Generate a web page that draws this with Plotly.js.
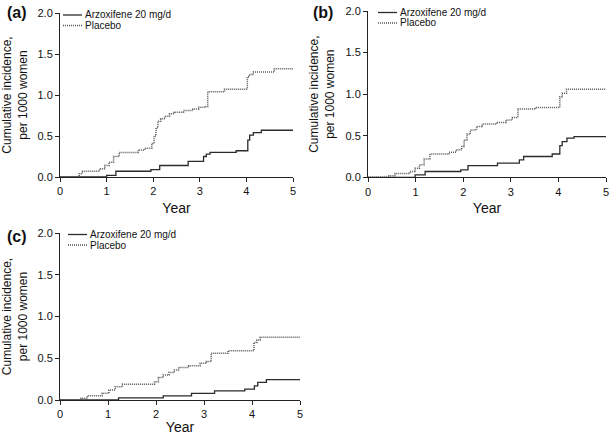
<!DOCTYPE html>
<html>
<head>
<meta charset="utf-8">
<script src="https://cdn.plot.ly/plotly-3.0.1.min.js"></script>
<style>html,body{margin:0;padding:0;background:#fff;}#chart{width:610px;height:435px;}</style>
</head>
<body>
<div id="chart"></div>
<script>
// ---- data (years, cumulative incidence per 1000 women) ----
const seriesNames = ["Arzoxifene 20 mg/d", "Placebo"];
const panelLabels = ["(a)", "(b)", "(c)"];
const xTickVals = [0, 1, 2, 3, 4, 5];
const yTickVals = [0, 0.5, 1.0, 1.5, 2.0];

const aPlaceboT = [0, 0.41, 0.48, 0.85, 0.96, 1.05, 1.15, 1.27, 1.68, 1.82, 1.97, 2.02, 2.06, 2.10, 2.16, 2.25, 2.35, 2.45, 2.65, 2.85, 2.98, 3.12, 3.17, 3.53, 4.02, 4.06, 4.15, 4.60, 5.0];
const aPlaceboV = [0, 0.04, 0.07, 0.10, 0.14, 0.18, 0.25, 0.30, 0.33, 0.35, 0.41, 0.50, 0.60, 0.68, 0.71, 0.74, 0.77, 0.79, 0.81, 0.83, 0.85, 0.86, 1.04, 1.07, 1.22, 1.25, 1.28, 1.32, 1.32];
const aArzoT = [0, 1.00, 1.20, 1.95, 2.14, 2.75, 3.08, 3.14, 3.22, 3.78, 4.03, 4.07, 4.15, 4.32, 5.0];
const aArzoV = [0, 0.02, 0.07, 0.09, 0.14, 0.19, 0.25, 0.28, 0.30, 0.32, 0.45, 0.51, 0.54, 0.57, 0.57];

const bPlaceboT = [0, 0.44, 0.57, 0.88, 0.99, 1.08, 1.18, 1.30, 1.70, 1.85, 1.97, 2.02, 2.08, 2.15, 2.28, 2.40, 2.70, 2.90, 3.03, 3.15, 3.52, 4.03, 4.08, 4.17, 5.0];
const bPlaceboV = [0, 0.02, 0.045, 0.07, 0.11, 0.15, 0.22, 0.28, 0.30, 0.33, 0.37, 0.45, 0.52, 0.57, 0.61, 0.64, 0.66, 0.69, 0.72, 0.82, 0.84, 0.97, 1.01, 1.06, 1.06];
const bArzoT = [0, 0.99, 1.20, 1.95, 2.10, 2.72, 3.18, 3.27, 3.87, 4.03, 4.08, 4.18, 4.33, 5.0];
const bArzoV = [0, 0.03, 0.07, 0.09, 0.14, 0.17, 0.21, 0.25, 0.28, 0.38, 0.43, 0.47, 0.49, 0.49];

const cPlaceboT = [0, 0.44, 0.57, 0.88, 1.02, 1.15, 1.30, 1.97, 2.05, 2.15, 2.27, 2.38, 2.47, 2.68, 2.92, 3.05, 3.15, 3.50, 4.04, 4.10, 4.17, 5.0];
const cPlaceboV = [0, 0.02, 0.05, 0.08, 0.12, 0.16, 0.19, 0.22, 0.27, 0.30, 0.33, 0.36, 0.39, 0.41, 0.44, 0.46, 0.56, 0.59, 0.69, 0.72, 0.75, 0.75];
const cArzoT = [0, 1.22, 2.15, 2.74, 3.22, 3.85, 4.05, 4.12, 4.30, 5.0];
const cArzoV = [0, 0.025, 0.05, 0.08, 0.11, 0.13, 0.17, 0.21, 0.245, 0.245];

// ---- styling ----
const W = 610, H = 435;
const arzoLine = {color: "#2b2b2b", width: 1.3, shape: "hv"};
const placLine = {color: "#555555", width: 1.5, dash: "1px,1px", shape: "hv"};
const FONT = "Liberation Sans, Arial, sans-serif";

const panels = [
  {ax: "", arzo: [aArzoT, aArzoV], plac: [aPlaceboT, aPlaceboV]},
  {ax: "2", arzo: [bArzoT, bArzoV], plac: [bPlaceboT, bPlaceboV]},
  {ax: "3", arzo: [cArzoT, cArzoV], plac: [cPlaceboT, cPlaceboV]}
];

const traces = [];
panels.forEach(p => {
  traces.push({x: p.arzo[0], y: p.arzo[1], type: "scatter", mode: "lines", name: seriesNames[0],
    line: arzoLine, xaxis: "x" + p.ax, yaxis: "y" + p.ax, showlegend: false, hoverinfo: "x+y"});
  traces.push({x: p.plac[0], y: p.plac[1], type: "scatter", mode: "lines", name: seriesNames[1],
    line: placLine, xaxis: "x" + p.ax, yaxis: "y" + p.ax, showlegend: false, hoverinfo: "x+y"});
});

function xAx(domain, anchor) {
  return {domain: domain, anchor: anchor, range: [0, 5], tickvals: xTickVals, ticktext: xTickVals.map(String),
    showgrid: false, zeroline: false, showline: true, linecolor: "#222", linewidth: 1,
    ticks: "outside", ticklen: 4, tickcolor: "#222", tickfont: {family: FONT, size: 11, color: "#111"},
    ticklabeloverflow: "allow",
    title: {text: "Year", font: {family: FONT, size: 14, color: "#111"}, standoff: 6}, automargin: false, fixedrange: true};
}
function yAx(domain, anchor) {
  return {domain: domain, anchor: anchor, range: [0, 2], tickvals: yTickVals, tickformat: ".1f",
    showgrid: false, zeroline: false, showline: true, linecolor: "#222", linewidth: 1,
    ticks: "outside", ticklen: 4, tickcolor: "#222", tickfont: {family: FONT, size: 11, color: "#111"},
    title: {text: "Cumulative incidence,<br>per 1000 women", font: {family: FONT, size: 12, color: "#111"}, standoff: 8},
    automargin: false, fixedrange: true};
}
const px = v => v / W, py = v => 1 - v / H;

const layout = {
  width: W, height: H, margin: {l: 0, r: 0, t: 0, b: 0},
  paper_bgcolor: "#fff", plot_bgcolor: "#fff", showlegend: false,
  font: {family: FONT, color: "#111"},
  xaxis: xAx([px(60), px(293)], "y"),
  yaxis: yAx([py(177), py(13)], "x"),
  xaxis2: xAx([px(368), px(606)], "y2"),
  yaxis2: yAx([py(177.3), py(11)], "x2"),
  xaxis3: xAx([px(60), px(300)], "y3"),
  yaxis3: yAx([py(400), py(233)], "x3"),
  annotations: [],
  shapes: []
};

// panel labels
const labelPos = [[17, 12], [323, 12], [17, 236]];
panelLabels.forEach((t, i) => {
  layout.annotations.push({text: "<b>" + t + "</b>", xref: "paper", yref: "paper",
    x: px(labelPos[i][0]), y: py(labelPos[i][1]), xanchor: "center", yanchor: "middle",
    showarrow: false, font: {family: FONT, size: 16, color: "#111"}});
});

// compact legends (line sample + label)
const legendPos = [[63, 15], [378, 12.5], [68, 234.5]];
legendPos.forEach(([lx, ly]) => {
  [[arzoLine, 0], [placLine, 1]].forEach(([ln, k]) => {
    const yy = ly + k * 10.5;
    layout.shapes.push({type: "line", xref: "paper", yref: "paper", x0: px(lx), x1: px(lx + 19), y0: py(yy), y1: py(yy),
      line: {color: ln.color, width: ln.width, dash: ln.dash || "solid"}});
    layout.annotations.push({text: seriesNames[k], xref: "paper", yref: "paper", x: px(lx + 21), y: py(yy),
      xanchor: "left", yanchor: "middle", showarrow: false, borderpad: 0,
      font: {family: FONT, size: 10, color: "#111"}});
  });
});

Plotly.newPlot("chart", traces, layout, {displayModeBar: false, staticPlot: true});
</script>
</body>
</html>
